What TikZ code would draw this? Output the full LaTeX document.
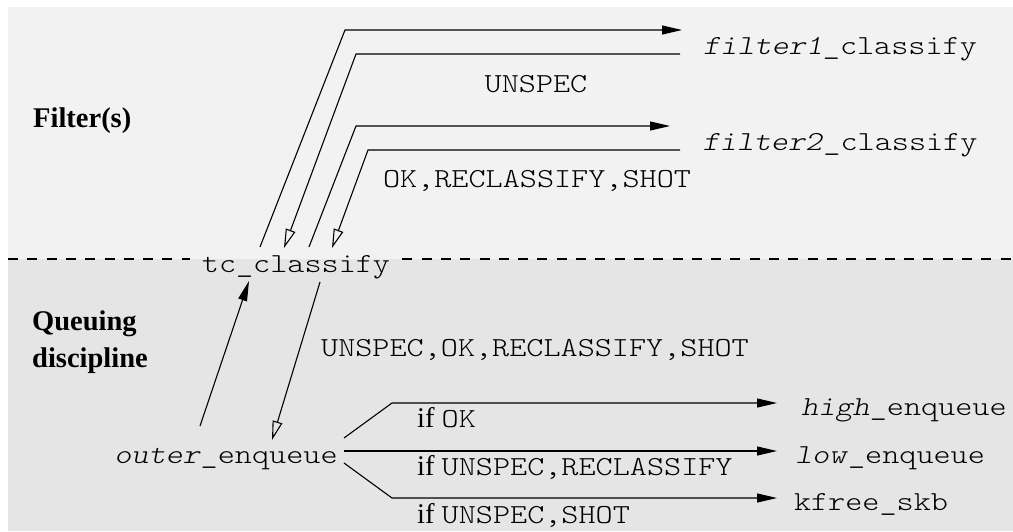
\documentclass[tikz,border=0pt]{standalone}
\usepackage{fontspec}
\setmainfont{Liberation Serif}
\newfontfamily\codefont{lmmonolt10}[
  Extension=.otf,
  UprightFont=*-regular,
  ItalicFont=*-oblique,
  FakeStretch=1.185]
\usetikzlibrary{arrows.meta,calc}
\definecolor{filterbg}{HTML}{F2F2F2}
\definecolor{qdiscbg}{HTML}{E5E5E5}
\newcommand\cw[1]{{\codefont #1}}
\tikzset{
  code/.style={font=\codefont\fontsize{27.5}{34}\selectfont, inner sep=0pt, anchor=base},
  heading/.style={font=\bfseries\fontsize{28.5}{37}\selectfont, inner sep=0pt, anchor=base west, align=left},
  cond/.style={font=\fontsize{28.5}{34}\selectfont, inner sep=0pt, anchor=base west},
  flow/.style={line width=1.1pt, -{Triangle[length=20pt,width=9pt]}},
  back/.style={line width=1.1pt, -{Triangle[open,length=19pt,width=10pt]}},
  wire/.style={line width=1.1pt},
  divider/.style={line width=1.1pt, dash pattern=on 10pt off 9.3pt},
}
\begin{document}
\begin{tikzpicture}[x=1pt, y=-1pt]
  % page and the two layers
  \fill[white] (0,0) rectangle (1013,531);
  \useasboundingbox (0,0) rectangle (1013,531);
  \fill[filterbg] (8,7) rectangle (1013,259);
  \fill[qdiscbg] (8,259) rectangle (1013,531);

  % layer headings
  \node[heading] (hfilter) at (33,127) {Filter(s)};
  \node[heading] (hqdisc) at (32,367) {Queuing\\discipline};

  % functions
  \node[code] (f1) at (840,54) {\textit{filter1}\_classify};
  \node[code] (f2) at (840,150) {\textit{filter2}\_classify};
  \node[code, inner xsep=12pt] (tc) at (296,272) {tc\_classify};
  \node[code] (outer) at (226,463) {\textit{outer}\_enqueue};
  \node[code] (high) at (904,415) {\textit{high}\_enqueue};
  \node[code] (low) at (890,463) {\textit{low}\_enqueue};
  \node[code] (kfree) at (871,510) {kfree\_skb};

  % return codes
  \node[code] (r1) at (536,92) {UNSPEC};
  \node[code] (r2) at (537,187) {OK,RECLASSIFY,SHOT};
  \node[code] (r3) at (535,356) {UNSPEC,OK,RECLASSIFY,SHOT};
  \node[cond] (c1) at (417,427) {if \cw{\fontsize{27.5}{34}\selectfont OK}};
  \node[cond] (c2) at (417,475) {if \cw{\fontsize{27.5}{34}\selectfont UNSPEC,RECLASSIFY}};
  \node[cond] (c3) at (417,523) {if \cw{\fontsize{27.5}{34}\selectfont UNSPEC,SHOT}};

  % layer boundary
  \coordinate (divL) at (8,259);
  \coordinate (divR) at (1013,259);
  \draw[divider] (divL) -- (divL -| tc.west);
  \draw[divider] (tc.east |- divR) -- (divR);

  % calls into the filters and their results
  \coordinate (tcout1) at (260,247);
  \coordinate (tcin1) at (284,248);
  \coordinate (tcout2) at (309,247);
  \coordinate (tcin2) at (332,248);
  \coordinate (f1in) at (682,30);
  \coordinate (f1out) at (680,54);
  \coordinate (f2in) at (670,126);
  \coordinate (f2out) at (680,150);
  \draw[flow] (tcout1) -- (345,30) -- (f1in);
  \draw[back] (f1out) -- (356,54) -- (tcin1);
  \draw[flow] (tcout2) -- (356,126) -- (f2in);
  \draw[back] (f2out) -- (368,150) -- (tcin2);

  % queuing discipline calls the classifier
  \coordinate (oqout) at (200,426);
  \coordinate (tcin) at (249,281);
  \coordinate (tcout) at (320,282);
  \coordinate (oqin) at (272,440);
  \draw[flow] (oqout) -- (tcin);
  \draw[back] (tcout) -- (oqin);

  % dispatch on the result
  \coordinate (b1) at (344,438);
  \coordinate (b2) at (344,451);
  \coordinate (b3) at (344,463);
  \coordinate (t1) at (777,403);
  \coordinate (t2) at (777,451);
  \coordinate (t3) at (777,498);
  \draw[flow] (b1) -- (392,403) -- (t1);
  \draw[flow] (b2) -- (t2);
  \draw[flow] (b3) -- (392,498) -- (t3);
\end{tikzpicture}
\end{document}
